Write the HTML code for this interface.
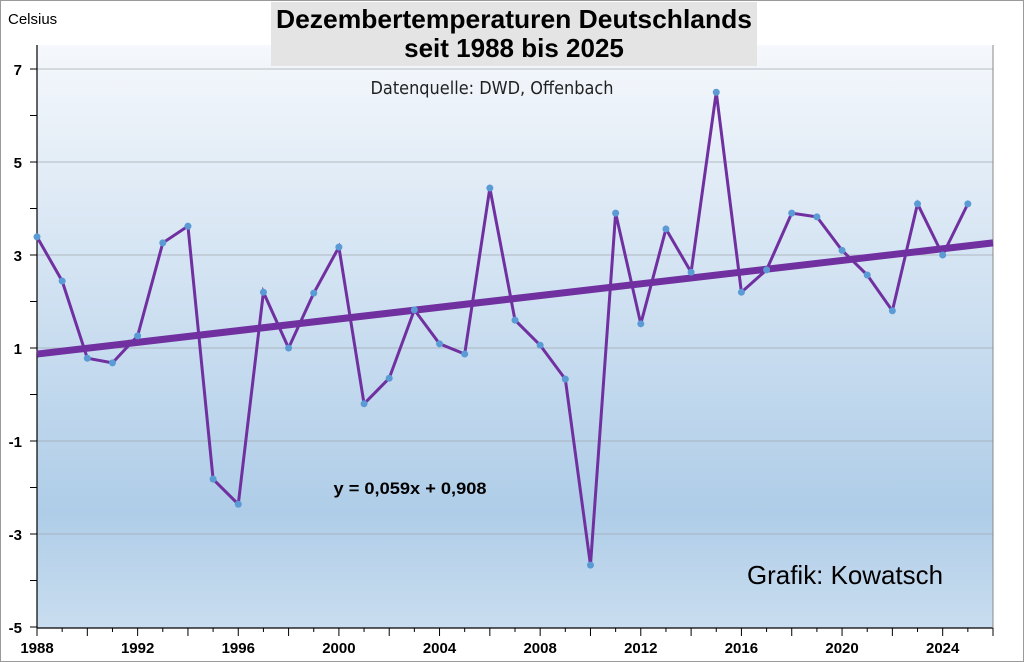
<!DOCTYPE html>
<html><head><meta charset="utf-8"><style>
body{margin:0;background:#fff;}
svg{display:block;font-family:"Liberation Sans",Arial,sans-serif;}
</style></head><body>
<svg id="c" width="1024" height="662" xmlns="http://www.w3.org/2000/svg">
<defs>
<linearGradient id="bg" x1="0" y1="0" x2="0" y2="1">
<stop offset="0" stop-color="#f5f8fc"/>
<stop offset="0.8" stop-color="#afcde8"/>
<stop offset="1" stop-color="#c9ddef"/>
</linearGradient>
</defs>
<rect x="0.5" y="0.5" width="1023" height="661" fill="#fff" stroke="#9a9a9a"/>
<rect x="37" y="45" width="956" height="583" fill="url(#bg)"/>
<g id="grid"></g>
<g id="axes"></g>
<g id="series"></g>
<rect x="271" y="2" width="486" height="64" fill="#e4e4e4"/>
<text x="514" y="28" text-anchor="middle" font-size="26" font-weight="bold" textLength="476" lengthAdjust="spacingAndGlyphs">Dezembertemperaturen Deutschlands</text>
<text x="514" y="57" text-anchor="middle" font-size="26" font-weight="bold">seit 1988 bis 2025</text>
<text x="492" y="94" text-anchor="middle" font-size="18" font-family="'DejaVu Sans Condensed','Liberation Sans Narrow',sans-serif" fill="#222" textLength="243" lengthAdjust="spacingAndGlyphs">Datenquelle: DWD, Offenbach</text>
<text x="8" y="24" font-size="15">Celsius</text>
<text x="410" y="494" text-anchor="middle" font-size="17" font-weight="bold" textLength="153" lengthAdjust="spacingAndGlyphs">y = 0,059x + 0,908</text>
<text x="845" y="584" text-anchor="middle" font-size="26" textLength="196" lengthAdjust="spacingAndGlyphs">Grafik: Kowatsch</text>
</svg>
<script>
const years=[1988,1989,1990,1991,1992,1993,1994,1995,1996,1997,1998,1999,2000,2001,2002,2003,2004,2005,2006,2007,2008,2009,2010,2011,2012,2013,2014,2015,2016,2017,2018,2019,2020,2021,2022,2023,2024,2025];
const temps=[3.39,2.44,0.78,0.68,1.26,3.26,3.62,-1.82,-2.36,2.2,1.0,2.18,3.17,-0.2,0.35,1.82,1.09,0.87,4.44,1.6,1.06,0.33,-3.67,3.9,1.52,3.56,2.63,6.5,2.2,2.68,3.9,3.82,3.1,2.57,1.8,4.1,3.0,4.1];
const yTicks=[7,5,3,1,-1,-3,-5];
const xTicks=[1988,1992,1996,2000,2004,2008,2012,2016,2020,2024];
const trendYears=[1988,2026];
const trendValues=[0.87,3.26];
const NS="http://www.w3.org/2000/svg";
const X=v=>37+(v-1988)*(956/38);
const Y=v=>627-(v+5)*46.5;
function mk(t,a,p){const e=document.createElementNS(NS,t);for(const k in a)e.setAttribute(k,a[k]);document.getElementById(p).appendChild(e);return e;}
for(let v=-5;v<=7;v++){
 if(v%2!==0&&v>-5){const g=mk('line',{x1:37,x2:993,y1:Y(v),y2:Y(v),stroke:'#a0a8b0','stroke-width':0.8},'grid');
 
 }
 const t=mk('line',{x1:30,x2:37,y1:Y(v),y2:Y(v),stroke:'#000'},'axes');
 
 
}
yTicks.forEach(v=>{const t=mk('text',{x:22,y:Y(v)+6,'text-anchor':'end','font-size':15,'font-weight':'bold'},'axes');t.textContent=v;
 
 });
for(let yr=1988;yr<=2026;yr++){const t=mk('line',{x1:X(yr),x2:X(yr),y1:628,y2:(yr%2===0?636:632),stroke:'#000'},'axes');
 
 }
xTicks.forEach(v=>{const t=mk('text',{x:X(v),y:653,'text-anchor':'middle','font-size':15,'font-weight':'bold'},'axes');t.textContent=v;
 
 });
let a=mk('line',{x1:37,x2:37,y1:45,y2:628,stroke:'#000','stroke-width':1.2},'axes');


a=mk('line',{x1:37,x2:993,y1:628,y2:628,stroke:'#000','stroke-width':1.2},'axes');


a=mk('line',{x1:993,x2:993,y1:45,y2:628,stroke:'#888'},'axes');


const tl=mk('line',{x1:X(trendYears[0]),y1:Y(trendValues[0]),x2:X(trendYears[1]),y2:Y(trendValues[1]),stroke:'#7030a0','stroke-width':7},'series');


const pl=mk('polyline',{points:years.map((y,i)=>X(y)+','+Y(temps[i])).join(' '),fill:'none',stroke:'#7030a0','stroke-width':3},'series');


years.forEach((y,i)=>{const c=mk('circle',{cx:X(y),cy:Y(temps[i]),r:3.5,fill:'#5b9bd5'},'series');
 
 });
</script>
</body></html>
